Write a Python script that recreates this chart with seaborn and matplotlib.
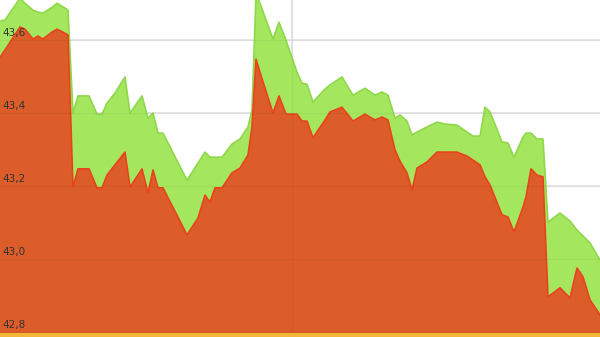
import matplotlib
matplotlib.use("Agg")
import matplotlib.pyplot as plt
import seaborn as sns
import pandas as pd

# sample positions (time index)
t = [0, 5, 20, 25, 33, 38, 43, 52, 57, 65, 68, 73, 78, 89, 97, 102, 107, 115, 125, 130,
     142, 148, 153, 158, 163, 187, 198, 205, 210, 215, 222, 232, 240, 248, 252, 256, 260,
     273, 279, 286, 297, 302, 307, 313, 325, 330, 342, 353, 365, 375, 382, 388, 395, 400,
     407, 412, 417, 427, 437, 445, 457, 467, 473, 480, 485, 490, 502, 508, 514, 523, 526,
     531, 537, 543, 548, 560, 570, 577, 583, 590, 600]

upper = [43.652, 43.655, 43.715, 43.701, 43.682, 43.677, 43.674, 43.690, 43.701, 43.688,
         43.682, 43.400, 43.447, 43.447, 43.397, 43.397, 43.427, 43.455, 43.499, 43.400,
         43.447, 43.386, 43.400, 43.345, 43.345, 43.216, 43.263, 43.293, 43.279, 43.279,
         43.279, 43.315, 43.329, 43.362, 43.408, 43.723, 43.701,
         43.603, 43.649, 43.600, 43.512, 43.482, 43.479, 43.430, 43.466, 43.477, 43.499,
         43.449, 43.468, 43.449, 43.458, 43.449, 43.386, 43.395,
         43.378, 43.340, 43.348, 43.362, 43.375, 43.370, 43.367, 43.348, 43.337, 43.337,
         43.416, 43.403, 43.321, 43.318, 43.279, 43.334, 43.345,
         43.345, 43.329, 43.329, 43.101, 43.126, 43.104, 43.079, 43.063, 43.044, 42.997]

lower = [43.553, 43.573, 43.636, 43.630, 43.603, 43.611, 43.603, 43.622, 43.630, 43.619,
         43.614, 43.197, 43.247, 43.247, 43.195, 43.195, 43.230, 43.258, 43.293, 43.197,
         43.247, 43.181, 43.244, 43.195, 43.195, 43.066, 43.112, 43.175, 43.156, 43.195,
         43.195, 43.236, 43.249, 43.285, 43.362, 43.548, 43.512,
         43.400, 43.447, 43.397, 43.397, 43.378, 43.378, 43.332, 43.381, 43.403, 43.416,
         43.378, 43.397, 43.381, 43.389, 43.381, 43.299, 43.268,
         43.236, 43.189, 43.249, 43.266, 43.293, 43.293, 43.293, 43.282, 43.271, 43.258,
         43.225, 43.203, 43.121, 43.115, 43.074, 43.142, 43.170,
         43.247, 43.230, 43.225, 42.896, 42.921, 42.893, 42.975, 42.951, 42.888, 42.847]

ytick_vals = [42.8, 43.0, 43.2, 43.4, 43.6]
ytick_labels = ["42,8", "43,0", "43,2", "43,4", "43,6"]

df = pd.DataFrame({"t": t, "upper": upper, "lower": lower})

sns.set_style("white")
fig = plt.figure(figsize=(6.0, 3.37), dpi=100)
ax = fig.add_axes([0, 0, 1, 1])

ymin, ymax = 42.786, 43.710
green_fill = "#a5e65f"
green_edge = "#8ed84a"
orange_fill = "#dc5d2a"
orange_edge = "#e8431c"

# grid behind the areas
for v in ytick_vals:
    ax.axhline(v, color="#e2e2e2", lw=1.2, zorder=0)
ax.axvline(292, color="#e2e2e2", lw=1.2, zorder=0)

ax.fill_between(df["t"], ymin, df["upper"], color=green_fill, lw=0, zorder=1)
sns.lineplot(data=df, x="t", y="upper", color=green_edge, lw=1.2, ax=ax, zorder=2)
ax.fill_between(df["t"], ymin, df["lower"], color=orange_fill, lw=0, zorder=3)
sns.lineplot(data=df, x="t", y="lower", color=orange_edge, lw=1.2, ax=ax, zorder=4)

# faint grid showing through the areas
for v in ytick_vals:
    ax.axhline(v, color="black", alpha=0.035, lw=1.0, zorder=5)
ax.axvline(292, color="black", alpha=0.035, lw=1.0, zorder=5)

for v, lab in zip(ytick_vals, ytick_labels):
    ax.text(2, v + 0.006, lab, fontsize=7.5, color="#333333", ha="left", va="bottom",
            family="DejaVu Sans", zorder=6)

ax.axhspan(ymin, 42.797, color="#f2b638", lw=0, zorder=6)

ax.set_xlim(0, 600)
ax.set_ylim(ymin, ymax)
ax.set_xlabel("")
ax.set_ylabel("")
ax.set_xticks([])
ax.set_yticks([])
for s in ax.spines.values():
    s.set_visible(False)

fig.savefig("out.png", dpi=100)
